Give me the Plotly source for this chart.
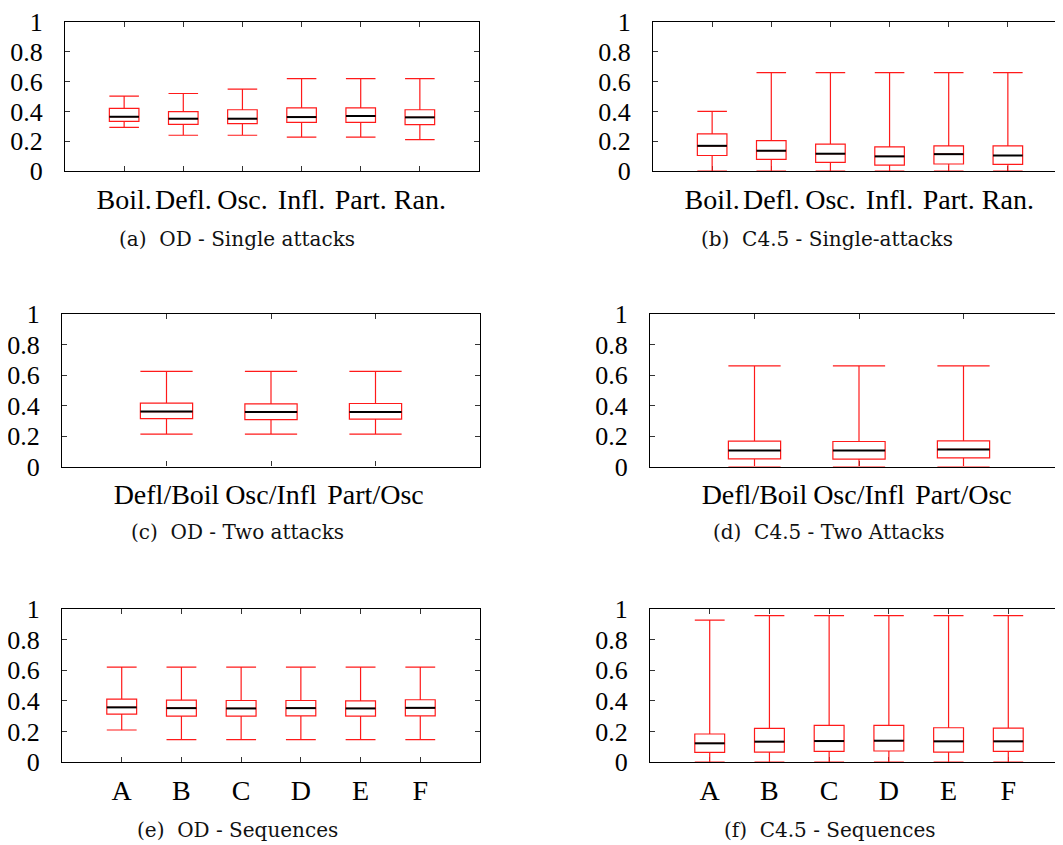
import plotly.graph_objects as go

# ---------------- data ----------------
cats_single = ["Boil.", "Defl.", "Osc.", "Infl.", "Part.", "Ran."]
cats_two = ["Defl/Boil", "Osc/Infl", "Part/Osc"]
cats_seq = ["A", "B", "C", "D", "E", "F"]

od_single_low = [0.293, 0.24, 0.24, 0.227, 0.227, 0.211]
od_single_q1 = [0.333, 0.313, 0.318, 0.327, 0.327, 0.311]
od_single_med = [0.364, 0.351, 0.351, 0.362, 0.369, 0.36]
od_single_q3 = [0.42, 0.398, 0.411, 0.424, 0.424, 0.411]
od_single_high = [0.502, 0.52, 0.549, 0.62, 0.62, 0.62]

c45_single_low = [0.0, 0.0, 0.0, 0.0, 0.0, 0.0]
c45_single_q1 = [0.104, 0.078, 0.058, 0.04, 0.047, 0.044]
c45_single_med = [0.169, 0.136, 0.116, 0.098, 0.113, 0.104]
c45_single_q3 = [0.249, 0.204, 0.18, 0.162, 0.169, 0.169]
c45_single_high = [0.40, 0.66, 0.66, 0.66, 0.66, 0.66]

od_two_low = [0.212, 0.212, 0.212]
od_two_q1 = [0.314, 0.308, 0.31]
od_two_med = [0.36, 0.358, 0.358]
od_two_q3 = [0.415, 0.41, 0.413]
od_two_high = [0.624, 0.624, 0.624]

c45_two_low = [0.0, 0.0, 0.0]
c45_two_q1 = [0.05, 0.048, 0.057]
c45_two_med = [0.105, 0.105, 0.112]
c45_two_q3 = [0.166, 0.164, 0.168]
c45_two_high = [0.66, 0.66, 0.66]

od_seq_low = [0.209, 0.146, 0.146, 0.146, 0.146, 0.146]
od_seq_q1 = [0.313, 0.30, 0.30, 0.302, 0.30, 0.302]
od_seq_med = [0.357, 0.352, 0.35, 0.352, 0.35, 0.354]
od_seq_q3 = [0.411, 0.404, 0.402, 0.402, 0.40, 0.407]
od_seq_high = [0.62, 0.62, 0.62, 0.62, 0.62, 0.62]

c45_seq_low = [0.0, 0.0, 0.0, 0.0, 0.0, 0.0]
c45_seq_q1 = [0.063, 0.065, 0.07, 0.072, 0.065, 0.07]
c45_seq_med = [0.122, 0.133, 0.137, 0.139, 0.135, 0.135]
c45_seq_q3 = [0.183, 0.22, 0.239, 0.239, 0.224, 0.222]
c45_seq_high = [0.927, 0.957, 0.957, 0.957, 0.957, 0.957]

y_ticks = [0, 0.2, 0.4, 0.6, 0.8, 1]
y_ticktext = ["0", "0.2", "0.4", "0.6", "0.8", "1"]

captions = [
    "(a)  OD - Single attacks",
    "(b)  C4.5 - Single-attacks",
    "(c)  OD - Two attacks",
    "(d)  C4.5 - Two Attacks",
    "(e)  OD - Sequences",
    "(f)  C4.5 - Sequences",
]

# ---------------- layout geometry (figure pixels) ----------------
W, H = 1063, 845
panels = [
    dict(cats=cats_single, low=od_single_low, q1=od_single_q1, med=od_single_med, q3=od_single_q3, high=od_single_high,
         x0=57, x1=471, yt=14, yb=163, cap=(229, 231)),
    dict(cats=cats_single, low=c45_single_low, q1=c45_single_q1, med=c45_single_med, q3=c45_single_q3, high=c45_single_high,
         x0=645, x1=1059, yt=14, yb=163, cap=(819, 231)),
    dict(cats=cats_two, low=od_two_low, q1=od_two_q1, med=od_two_med, q3=od_two_q3, high=od_two_high,
         x0=54, x1=472, yt=306, yb=458.5, cap=(229, 524)),
    dict(cats=cats_two, low=c45_two_low, q1=c45_two_q1, med=c45_two_med, q3=c45_two_q3, high=c45_two_high,
         x0=642, x1=1060, yt=306, yb=458.5, cap=(821, 524)),
    dict(cats=cats_seq, low=od_seq_low, q1=od_seq_q1, med=od_seq_med, q3=od_seq_q3, high=od_seq_high,
         x0=54, x1=472, yt=601, yb=754, cap=(229, 822)),
    dict(cats=cats_seq, low=c45_seq_low, q1=c45_seq_q1, med=c45_seq_med, q3=c45_seq_q3, high=c45_seq_high,
         x0=642, x1=1060, yt=601, yb=754, cap=(822, 822)),
]

RED = "#ff1a1a"
XTICKFONT = dict(family="Liberation Serif, Times New Roman, serif", size=28, color="black")
YTICKFONT = dict(family="Liberation Serif, Times New Roman, serif", size=26, color="black")
CAPFONT = dict(family="DejaVu Serif, serif", size=20, color="#111111")

fig = go.Figure()
layout = dict(
    width=W, height=H,
    margin=dict(l=0, r=0, t=0, b=0, autoexpand=False),
    paper_bgcolor="white", plot_bgcolor="white",
    showlegend=False,
    annotations=[],
)

for i, p in enumerate(panels, start=1):
    n = len(p["cats"])
    ppu = (p["x1"] - p["x0"]) / (n + 1)  # categories at 0..n-1, range [-1, n]
    xa = "x" if i == 1 else f"x{i}"
    ya = "y" if i == 1 else f"y{i}"
    xkey = "xaxis" if i == 1 else f"xaxis{i}"
    ykey = "yaxis" if i == 1 else f"yaxis{i}"

    fig.add_trace(go.Box(
        x=p["cats"], q1=p["q1"], median=p["med"], q3=p["q3"],
        lowerfence=p["low"], upperfence=p["high"],
        width=0.5, whiskerwidth=1, boxpoints=False,
        line=dict(color=RED, width=1.2), fillcolor="rgba(255,255,255,0)",
        xaxis=xa, yaxis=ya, hoverinfo="skip",
    ))
    # black median bar; a 'line-ew' marker spans 1.4 x its size
    fig.add_trace(go.Scatter(
        x=p["cats"], y=p["med"], mode="markers",
        marker=dict(symbol="line-ew", size=0.5 * ppu / 1.4, color="black",
                    line=dict(color="black", width=2)),
        xaxis=xa, yaxis=ya, hoverinfo="skip",
    ))

    layout[xkey] = dict(
        domain=[p["x0"] / W, p["x1"] / W], anchor=ya, automargin=False,
        type="category", categoryorder="array", categoryarray=p["cats"],
        range=[-1, n], showgrid=False, zeroline=False,
        showline=True, linecolor="black", linewidth=1.3, mirror="ticks",
        ticks="inside", ticklen=5, tickwidth=1, tickcolor="#333",
        tickfont=XTICKFONT, ticklabelstandoff=3, layer="below traces",
        ticklabeloverflow="allow",
    )
    layout[ykey] = dict(
        domain=[1 - p["yb"] / H, 1 - p["yt"] / H], anchor=xa, automargin=False,
        range=[0, 1], showgrid=False, zeroline=False,
        showline=True, linecolor="black", linewidth=1.3, mirror="ticks",
        ticks="inside", ticklen=5, tickwidth=1, tickcolor="#333",
        tickvals=y_ticks, ticktext=y_ticktext,
        tickfont=YTICKFONT, ticklabelstandoff=16, ticklabeloverflow="allow",
    )
    layout["annotations"].append(dict(
        text=captions[i - 1], xref="paper", yref="paper",
        x=p["cap"][0] / W, y=1 - p["cap"][1] / H,
        xanchor="center", yanchor="middle", showarrow=False, font=CAPFONT,
    ))

fig.update_layout(**layout)
fig.write_html("out.html")
